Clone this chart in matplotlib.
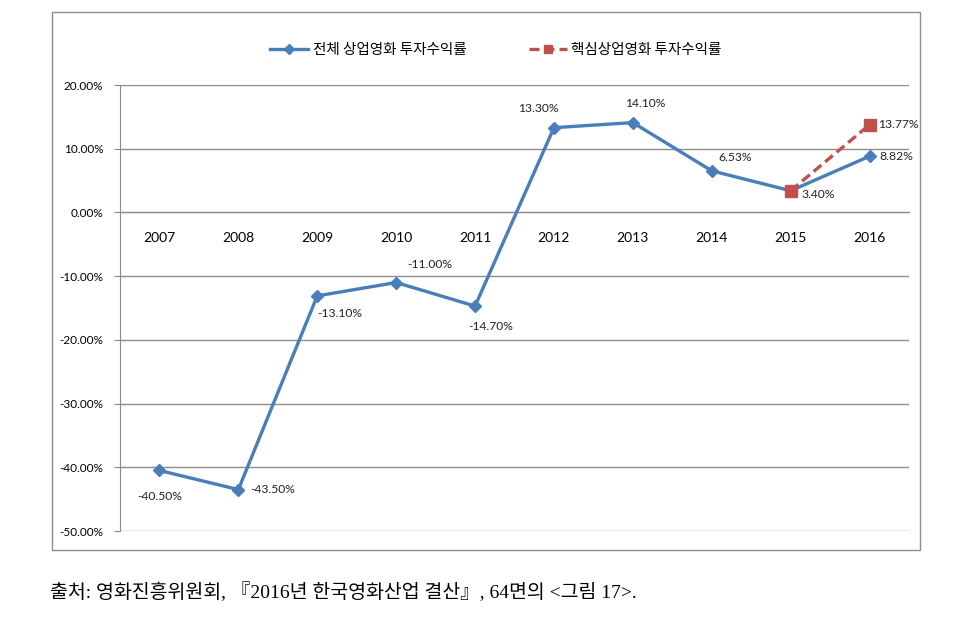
import matplotlib.pyplot as plt
from matplotlib.patches import Rectangle
import numpy as np

plt.rcParams['font.family'] = ['Lato', 'Noto Sans CJK KR', 'DejaVu Sans']

years = ['2007', '2008', '2009', '2010', '2011', '2012', '2013', '2014', '2015', '2016']
total_roi = [-40.50, -43.50, -13.10, -11.00, -14.70, 13.30, 14.10, 6.53, 3.40, 8.82]
core_years = ['2015', '2016']
core_roi = [3.40, 13.77]

label_total = '전체 상업영화 투자수익률'
label_core = '핵심상업영화 투자수익률'
source = '출처: 영화진흥위원회, 『2016년 한국영화산업 결산』, 64면의 <그림 17>.'

# data label offsets in points (dx, dy); None = no label
total_offsets = [(0, -19), (25, 0), (16, -13), (24, 13), (11, -14.5),
                 (-11, 14), (9, 14), (17, 9.5), (20, -3), (19, 0)]
core_offsets = [None, (21, 0)]

blue = '#4A7EBB'
red = '#C0504D'
grey = '#8C8C8C'

fig = plt.figure(figsize=(9.57, 6.28), dpi=100)

# outer chart border
fig.patches.append(Rectangle((52 / 957, 1 - 550 / 628), 868 / 957, 538 / 628,
                             transform=fig.transFigure, fill=False,
                             edgecolor=grey, lw=1.0))

ax = fig.add_axes([120 / 957, 1 - 531 / 628, 789 / 957, 446 / 628])

x = np.arange(len(years))
xc = [years.index(y) for y in core_years]

ax.plot(x, total_roi, color=blue, lw=2.4, marker='D', ms=6.5, label=label_total, zorder=3)
ax.plot(xc, core_roi, color=red, lw=2.4, ls=(0, (3, 1.5)), marker='s', ms=8,
        label=label_core, zorder=4)

for xi, v, off in zip(x, total_roi, total_offsets):
    ax.annotate(f'{v:.2f}%', (xi, v), xytext=off, textcoords='offset points',
                ha='center', va='center', fontsize=8.7, color='#222222')
for xi, v, off in zip(xc, core_roi, core_offsets):
    if off is None:
        continue
    ax.annotate(f'{v:.2f}%', (xi, v), xytext=off, textcoords='offset points',
                ha='center', va='center', fontsize=8.7, color='#222222')

ax.set_xlim(-0.5, len(years) - 0.5)
ax.set_ylim(-50, 20)
ax.set_yticks(np.arange(-50, 21, 10))
ax.set_yticklabels([f'{t:.2f}%' for t in np.arange(-50, 21, 10)], fontsize=8.5)
ax.yaxis.grid(True, color=grey, lw=1.0)
ax.set_axisbelow(True)

ax.set_xticks(x)
ax.set_xticklabels(years, fontsize=8.5)
ax.spines['bottom'].set_position(('data', 0))
ax.spines['bottom'].set_color(grey)
ax.spines['left'].set_color(grey)
ax.spines['top'].set_visible(False)
ax.spines['right'].set_visible(False)
ax.tick_params(axis='x', length=0, pad=14)
ax.tick_params(axis='y', length=4, color=grey, pad=8)

fig.legend(loc='center', bbox_to_anchor=(496 / 957, 1 - 50 / 628), ncol=2,
           frameon=False, handlelength=2.6, handletextpad=0.3, columnspacing=4.3,
           markerscale=0.8, prop={'family': ['Noto Sans CJK KR'], 'size': 10.5})

fig.text(50 / 957, 1 - 592 / 628, source, fontsize=14, va='center',
         family=['Liberation Serif', 'Noto Sans CJK KR', 'DejaVu Sans'])

fig.savefig('out.png', dpi=100)
